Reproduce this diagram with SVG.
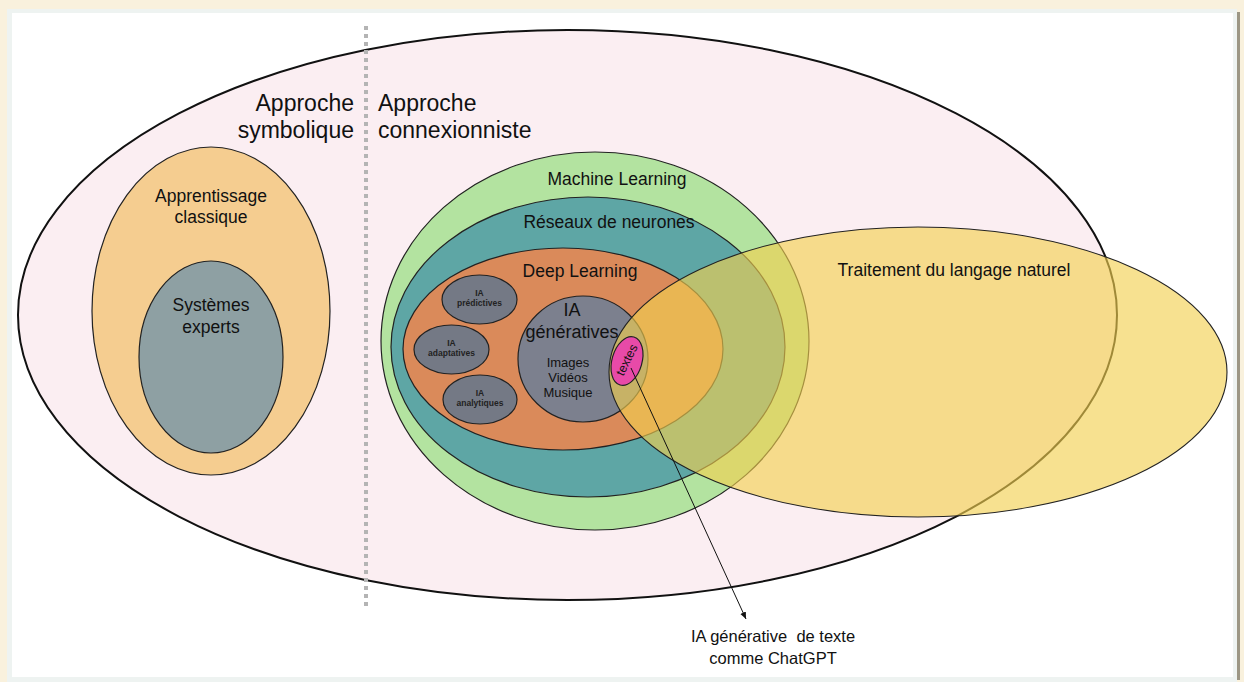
<svg xmlns="http://www.w3.org/2000/svg" width="1244" height="682" viewBox="0 0 1244 682">
<defs>
<style>
.t{font-family:"Liberation Sans",Arial,Helvetica,sans-serif;fill:#111;text-anchor:middle}
.big{font-size:23px}
.lbl{font-size:17.5px}
.sm{font-size:8.5px;font-weight:bold;fill:#222}
.ln{stroke:#222;stroke-width:1.2}
</style>
<marker id="ah" markerWidth="8" markerHeight="8" refX="7" refY="4" orient="auto" markerUnits="userSpaceOnUse">
<path d="M0,1 L7,4 L0,7 Z" fill="#111"/>
</marker>
</defs>
<rect x="0" y="0" width="1244" height="682" fill="#f9f1dd"/>
<rect x="1236" y="12" width="4" height="668" fill="#9c9684"/>
<rect x="7" y="9" width="1230" height="673" fill="#eef3f1"/>
<rect x="12" y="13" width="1221" height="664" fill="#ffffff"/>

<g id="ia-globale">
<ellipse cx="567.5" cy="315" rx="549.5" ry="285" fill="#fbeef2" stroke="#111" stroke-width="2"/>
</g>
<line x1="366" y1="26" x2="366" y2="610" stroke="#b4b4b4" stroke-width="4" stroke-dasharray="4,4"/>

<g id="apprentissage-classique">
<ellipse cx="211" cy="311" rx="119" ry="164" fill="#f5cd90" class="ln"/>
<text class="t lbl" x="211" y="202">Apprentissage</text>
<text class="t lbl" x="211" y="223">classique</text>
</g>
<g id="systemes-experts">
<ellipse cx="211" cy="357" rx="72" ry="96" fill="#8ea0a3" class="ln"/>
<text class="t lbl" x="211" y="311">Systèmes</text>
<text class="t lbl" x="211" y="333">experts</text>
</g>

<g id="machine-learning">
<ellipse cx="595" cy="341" rx="214" ry="189" fill="#b3e3a0" class="ln"/>
<text class="t lbl" x="617" y="185">Machine Learning</text>
</g>
<g id="reseaux-neurones">
<ellipse cx="588" cy="347" rx="197" ry="150" fill="#5ea6a5" class="ln"/>
<text class="t lbl" x="609" y="228">Réseaux de neurones</text>
</g>
<g id="deep-learning">
<ellipse cx="563" cy="349" rx="160" ry="101" fill="#da8a5a" class="ln"/>
<text class="t lbl" x="580" y="277">Deep Learning</text>
</g>
<g id="ia-predictives">
<ellipse cx="479.5" cy="299.5" rx="37.5" ry="24.5" fill="#747985" class="ln"/>
<text class="t sm" x="479.5" y="296">IA</text>
<text class="t sm" x="479.5" y="306">prédictives</text>
</g>
<g id="ia-adaptatives">
<ellipse cx="451.5" cy="349.5" rx="37.5" ry="24.5" fill="#747985" class="ln"/>
<text class="t sm" x="451.5" y="346">IA</text>
<text class="t sm" x="451.5" y="356">adaptatives</text>
</g>
<g id="ia-analytiques">
<ellipse cx="480" cy="399.5" rx="37" ry="24.5" fill="#747985" class="ln"/>
<text class="t sm" x="480" y="396">IA</text>
<text class="t sm" x="480" y="406">analytiques</text>
</g>
<g id="ia-generatives">
<ellipse cx="583" cy="359" rx="65" ry="63" fill="#7c808e" class="ln"/>
<text class="t" style="font-size:18px" x="572" y="316">IA</text>
<text class="t" style="font-size:18px" x="572" y="338">génératives</text>
<text class="t" style="font-size:13px" x="568" y="367">Images</text>
<text class="t" style="font-size:13px" x="568" y="382">Vidéos</text>
<text class="t" style="font-size:13px" x="568" y="397">Musique</text>
</g>

<g id="traitement-langage-naturel">
<ellipse cx="918" cy="372" rx="309" ry="145" fill="#f2cf4f" fill-opacity="0.63" stroke="#222" stroke-width="1.1"/>
<text class="t lbl" x="954" y="276">Traitement du langage naturel</text>
</g>

<g id="textes">
<ellipse cx="627" cy="361" rx="15" ry="25" transform="rotate(16 627 361)" fill="#e84aa8" class="ln"/>
<text class="t" style="font-size:12.5px" x="0" y="4" transform="translate(627 360) rotate(-64)">textes</text>
</g>

<g id="connecteurs">
<line x1="631" y1="368" x2="746" y2="619" stroke="#111" stroke-width="1" marker-end="url(#ah)"/>
</g>

<g id="labels">
<text class="t big" style="text-anchor:end" x="354" y="111">Approche</text>
<text class="t big" style="text-anchor:end" x="354" y="138">symbolique</text>
<text class="t big" style="text-anchor:start" x="378" y="111">Approche</text>
<text class="t big" style="text-anchor:start" x="378" y="138">connexionniste</text>
</g>
<g id="chatgpt">
<text class="t" style="font-size:16.5px" x="773" y="642">IA générative&#160; de texte</text>
<text class="t" style="font-size:16.5px" x="773" y="664">comme ChatGPT</text>
</g>
</svg>
